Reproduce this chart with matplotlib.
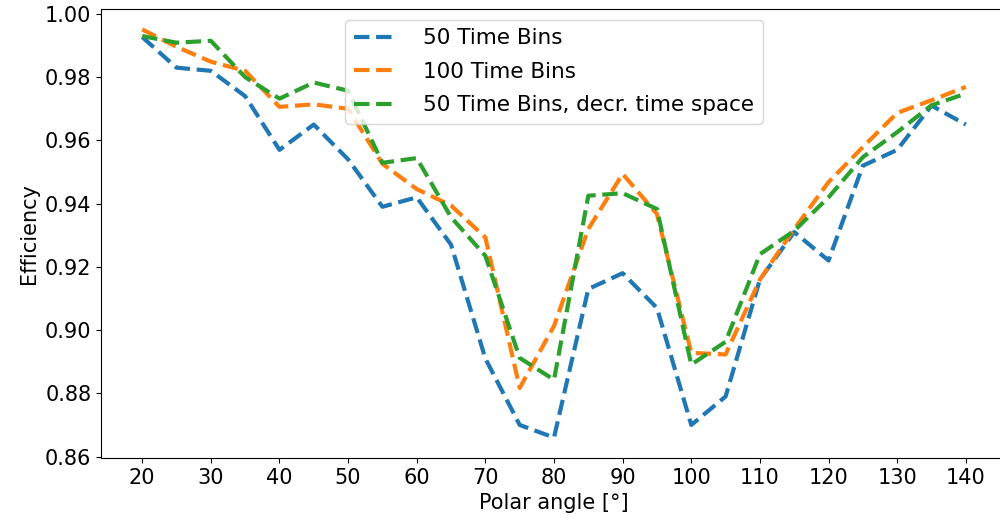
import matplotlib
matplotlib.use('Agg')
import matplotlib.pyplot as plt

# polar angle bins [deg]
angles = list(range(20, 145, 5))

# efficiency, 50 time bins
eff_50 = [0.9927, 0.983, 0.982, 0.974, 0.957, 0.965, 0.954, 0.939, 0.942, 0.927,
          0.891, 0.870, 0.866, 0.913, 0.918, 0.907, 0.870, 0.879, 0.916, 0.931,
          0.922, 0.952, 0.957, 0.971, 0.965]
# efficiency, 100 time bins
eff_100 = [0.9951, 0.9896, 0.9849, 0.982, 0.9706, 0.9714, 0.970, 0.9526, 0.9446, 0.9394,
           0.9293, 0.8817, 0.9013, 0.932, 0.9494, 0.9367, 0.8928, 0.8923, 0.916, 0.932,
           0.9468, 0.9579, 0.9687, 0.9727, 0.9769]
# efficiency, 50 time bins with decreased time spacing
eff_50_decr = [0.993, 0.9909, 0.9915, 0.980, 0.9732, 0.9783, 0.9757, 0.9529, 0.9544, 0.9357,
               0.9235, 0.8912, 0.8843, 0.9425, 0.9433, 0.9383, 0.8891, 0.8963, 0.924, 0.9314,
               0.942, 0.9547, 0.9626, 0.9711, 0.9748]

labels = ['50 Time Bins', '100 Time Bins', '50 Time Bins, decr. time space']

plt.rcParams['font.size'] = 15

fig = plt.figure(figsize=(10, 5.18), dpi=100)
# right spine falls just outside the picture, like the reference
ax = fig.add_axes([0.101, 1 - 458/518., 0.906, (458 - 9)/518.])

for eff, lab in zip([eff_50, eff_100, eff_50_decr], labels):
    ax.plot(angles, eff, '--', linewidth=3, label=lab)

ax.set_xticks(range(20, 150, 10))
ax.set_xlabel('Polar angle [°]')
ax.set_ylabel('Efficiency')
ax.legend(loc='upper center', fontsize=15.5, handletextpad=1.2, handlelength=2.0,
          labelspacing=0.62)

fig.savefig('out.png', dpi=100)
